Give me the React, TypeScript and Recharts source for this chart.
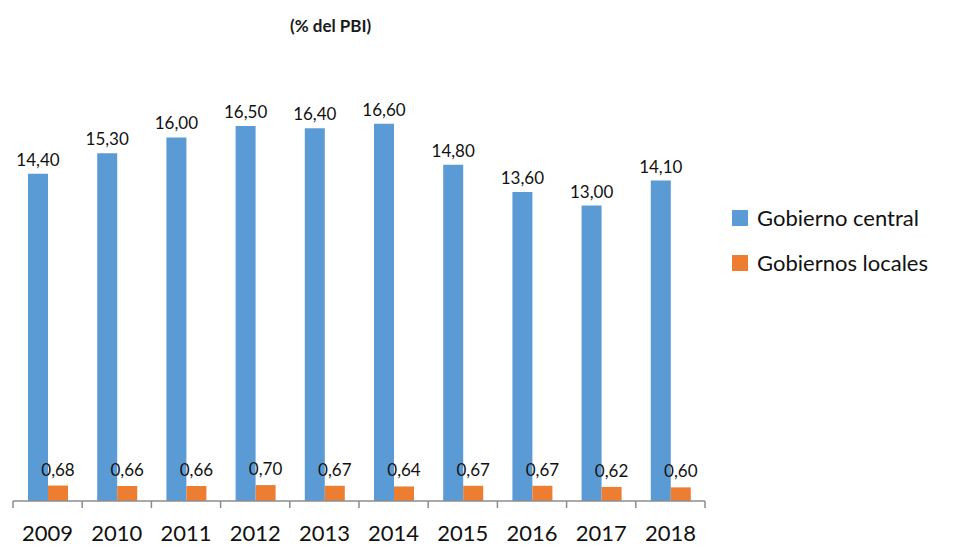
import { BarChart, Bar, XAxis, YAxis, LabelList } from "recharts";

const years = ["2009", "2010", "2011", "2012", "2013", "2014", "2015", "2016", "2017", "2018"];
const central = [14.4, 15.3, 16.0, 16.5, 16.4, 16.6, 14.8, 13.6, 13.0, 14.1];
const locales = [0.68, 0.66, 0.66, 0.7, 0.67, 0.64, 0.67, 0.67, 0.62, 0.6];
const seriesNames = ["Gobierno central", "Gobiernos locales"];

const BLUE = "#5b9bd5";
const ORANGE = "#ed7d31";
const FONT = "Lato, 'Open Sans', sans-serif";

const W = 955;
const H = 548;
const AXIS_H = 30;
const M = { top: 92, right: 250, bottom: 47 - AXIS_H, left: 13 };
const band = (W - M.left - M.right) / years.length;

const data = years.map((year, i) => ({
  year,
  central: central[i],
  locales: locales[i],
}));

const fmt = (v: number) => v.toFixed(2).replace(".", ",");

function YearTick(props: any) {
  const { x, y, payload, index } = props;
  const left = x - band / 2;
  const right = x + band / 2;
  return (
    <g>
      <line x1={left} y1={y} x2={left} y2={y + 7} stroke="#8c8c8c" strokeWidth={1.5} />
      {index === years.length - 1 && (
        <line x1={right} y1={y} x2={right} y2={y + 7} stroke="#8c8c8c" strokeWidth={1.5} />
      )}
      <text x={x} y={y + 40} textAnchor="middle" fontSize={22} fill="#111" fontFamily={FONT}>
        {payload.value}
      </text>
    </g>
  );
}

export default function App() {
  const colors = [BLUE, ORANGE];
  return (
    <div style={{ position: "absolute", left: 0, top: 0, width: W, height: H, background: "#fff" }}>
      <div
        style={{
          position: "absolute",
          left: 290,
          top: 15,
          fontFamily: FONT,
          fontWeight: 700,
          fontSize: 17,
          color: "#1a1a1a",
        }}
      >
        (% del PBI)
      </div>
      <div style={{ position: "absolute", left: 732, top: 195, fontFamily: FONT }}>
        {seriesNames.map((name, i) => (
          <div key={name} style={{ display: "flex", alignItems: "center", height: 45 }}>
            <span style={{ width: 16, height: 16, background: colors[i], marginRight: 9 }} />
            <span style={{ fontSize: 22, color: "#111" }}>{name}</span>
          </div>
        ))}
      </div>
      <BarChart width={W} height={H} data={data} margin={M} barGap={0} barSize={20}>
        <XAxis
          dataKey="year"
          height={AXIS_H}
          stroke="#8c8c8c"
          strokeWidth={1.5}
          tickLine={false}
          tickSize={0}
          tickMargin={0}
          interval={0}
          tick={<YearTick />}
        />
        <YAxis hide domain={[0, 18]} />
        <Bar dataKey="central" name={seriesNames[0]} fill={BLUE} isAnimationActive={false}>
          <LabelList
            dataKey="central"
            position="top"
            offset={8}
            formatter={(v: any) => fmt(Number(v))}
            fontSize={17}
            fill="#111"
            fontFamily={FONT}
          />
        </Bar>
        <Bar dataKey="locales" name={seriesNames[1]} fill={ORANGE} isAnimationActive={false}>
          <LabelList
            dataKey="locales"
            position="top"
            offset={10}
            formatter={(v: any) => fmt(Number(v))}
            fontSize={17}
            fill="#111"
            fontFamily={FONT}
          />
        </Bar>
      </BarChart>
    </div>
  );
}
